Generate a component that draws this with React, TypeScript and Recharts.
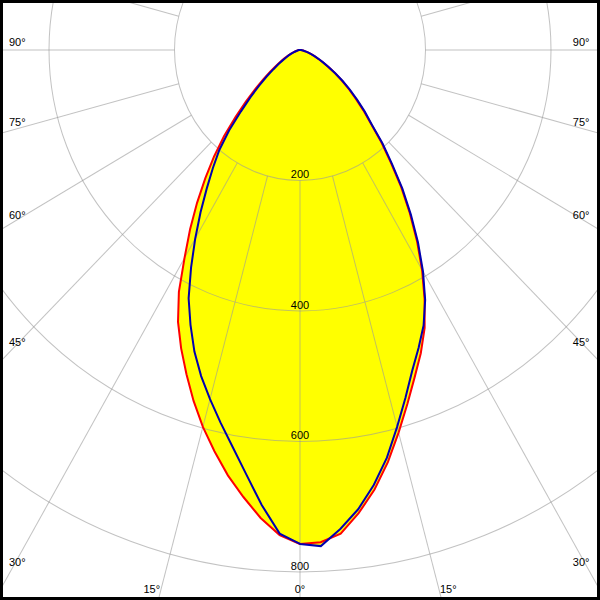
import React from 'react';
import { RadarChart, Radar, PolarGrid, PolarAngleAxis, PolarRadiusAxis } from 'recharts';

// gamma angles (deg from nadir) for each half-plane
const GAMMA = [
  0, 2.5, 5, 7.5, 10, 12.5, 15, 17.5, 20, 22.5, 25, 27.5, 30, 32.5, 35, 37.5, 40, 42.5, 45,
  47.5, 50, 52.5, 55, 57.5, 60, 62.5, 65, 67.5, 70, 72.5, 75, 77.5, 80, 82.5, 85, 87.5, 90,
];
// luminous intensity (cd)
const C0 = [
  757, 755, 744, 716, 684, 647, 607, 569, 534, 503, 470, 430, 389, 347, 305, 265, 225, 192, 160,
  137, 116, 98, 81, 66, 52, 41, 32, 25, 19, 14, 10, 7, 5, 3, 2, 1, 0,
];
const C180 = [
  757, 744, 720, 691, 662, 630, 598, 564, 529, 495, 460, 418, 368, 326, 286, 248, 213, 179, 145,
  117, 92, 73, 58, 45, 35, 28, 22, 16, 12, 9, 6, 4, 3, 2, 1, 0, 0,
];
const C90 = [
  757, 761, 737, 710, 677, 640, 598, 559, 523, 494, 466, 432, 392, 350, 308, 268, 228, 195, 162,
  140, 119, 100, 83, 67, 53, 42, 33, 25, 19, 14, 10, 7, 5, 3, 2, 1, 0,
];
const C270 = [
  757, 742, 700, 656, 618, 585, 554, 524, 492, 456, 420, 376, 334, 295, 259, 228, 200, 167, 133,
  107, 85, 67, 52, 41, 32, 25, 20, 15, 11, 8, 6, 4, 3, 2, 1, 0, 0,
];

const RADIUS_TICKS = [200, 400, 600, 800];
const ANGLE_LABELS = [0, 15, 30, 45, 60, 75, 90];

const W = 600;
const H = 600;
const S = 1.04; // the original is stretched a little vertically
const CX = 300;
const CY = 48;
const R_MAX = 1000;
const OUTER_R = 627.5;
const INNER_R = (RADIUS_TICKS[0] / R_MAX) * OUTER_R; // radial lines start at the 200 ring
const STEP = 2.5;
const FONT = '"Liberation Sans", Arial, sans-serif';

// full turn, clockwise from nadir (left half first)
const rows = Array.from({ length: 360 / STEP }, (_, k) => {
  const phi = k * STEP;
  let red = 0;
  let blue = 0;
  if (phi <= 90) {
    const i = GAMMA.indexOf(phi);
    red = C180[i];
    blue = C270[i];
  } else if (phi >= 270) {
    const i = GAMMA.indexOf(360 - phi);
    red = C0[i];
    blue = C90[i];
  }
  return { phi, red, blue };
});

const gridAngles = Array.from({ length: 24 }, (_, i) => -90 - i * 15);
const gridRadii = RADIUS_TICKS.map((v) => (v / R_MAX) * OUTER_R);

const renderAngleTick = (props: any) => {
  const phi = props.payload.value as number;
  const gamma = phi <= 180 ? phi : 360 - phi;
  if (gamma > 90 || !ANGLE_LABELS.includes(gamma)) return <g />;
  const a = (-props.payload.coordinate * Math.PI) / 180;
  const ux = Math.cos(a);
  const uy = Math.sin(a);
  const yBottom = 593 / S;
  const xAtBottom = CX + ((yBottom - CY) / uy) * ux;
  let x: number;
  let y: number;
  let anchor: 'start' | 'middle' | 'end';
  if (xAtBottom > 11 && xAtBottom < W - 11) {
    x = xAtBottom;
    y = yBottom;
    anchor = Math.abs(ux) < 1e-6 ? 'middle' : ux < 0 ? 'end' : 'start';
  } else {
    const xe = ux < 0 ? 11 : W - 11;
    y = CY + ((xe - CX) / ux) * uy - 4 / S;
    x = ux < 0 ? 9 : W - 10.5;
    anchor = ux < 0 ? 'start' : 'end';
  }
  return (
    <text x={x} y={y} textAnchor={anchor} fontSize={11} fontFamily={FONT} style={{ fill: '#000' }}>
      {`${gamma}°`}
    </text>
  );
};

const renderRadiusTick = (props: any) => (
  <text x={props.x} y={props.y - 2 / S} textAnchor="middle" fontSize={11} fontFamily={FONT} style={{ fill: '#000' }}>
    {props.payload.value}
  </text>
);

export default function App() {
  return (
    <div style={{ position: 'absolute', left: 0, top: 0, width: W, height: H, overflow: 'hidden', background: '#fff' }}>
      <div style={{ transform: `scaleY(${S})`, transformOrigin: '0 0' }}>
        <RadarChart
          width={W}
          height={Math.round(H / S)}
          data={rows}
          cx={CX}
          cy={CY}
          innerRadius={INNER_R}
          outerRadius={OUTER_R}
          startAngle={-90}
          endAngle={-450}
          margin={{ top: 0, right: 0, bottom: 0, left: 0 }}
        >
          <Radar name="fill C0-C180" dataKey="red" stroke="none" fill="#ffff00" fillOpacity={1} dot={false} activeDot={false} isAnimationActive={false} zIndex={100} />
          <Radar name="fill C90-C270" dataKey="blue" stroke="none" fill="#ffff00" fillOpacity={1} dot={false} activeDot={false} isAnimationActive={false} zIndex={100} />
          <PolarGrid
            gridType="circle"
            polarAngles={gridAngles}
            polarRadius={gridRadii}
            stroke="#999"
            strokeOpacity={0.6}
            zIndex={150}
          />
          <PolarAngleAxis dataKey="phi" axisLine={false} tickLine={false} tick={renderAngleTick} />
          <PolarRadiusAxis
            angle={-90}
            type="number"
            domain={[RADIUS_TICKS[0], R_MAX]}
            allowDataOverflow
            ticks={RADIUS_TICKS}
            axisLine={false}
            tickLine={false}
            tick={renderRadiusTick}
          />
          <Radar name="C0-C180" dataKey="red" stroke="#ff0000" strokeWidth={2} fill="none" dot={false} activeDot={false} isAnimationActive={false} zIndex={200} />
          <Radar name="C90-C270" dataKey="blue" stroke="#0000b0" strokeWidth={2} fill="none" dot={false} activeDot={false} isAnimationActive={false} zIndex={200} />
        </RadarChart>
      </div>
      <div style={{ position: 'absolute', inset: 0, border: '3px solid #000', boxSizing: 'border-box', pointerEvents: 'none' }} />
    </div>
  );
}
